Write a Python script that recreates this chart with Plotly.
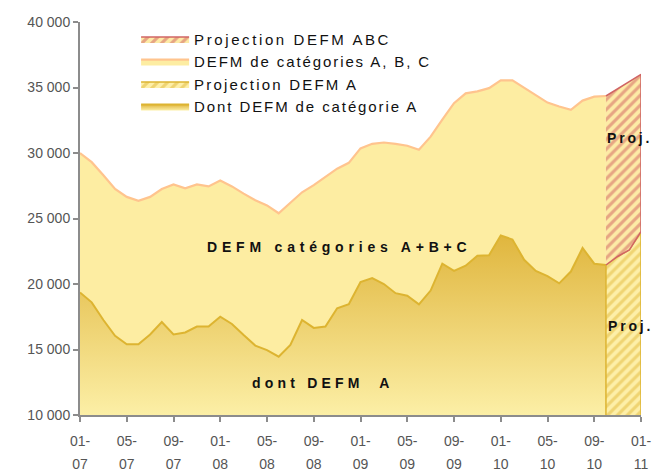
import plotly.graph_objects as go

# ---- data ----
months = [f"{m:02d}-{y:02d}" for y in range(7, 12) for m in range(1, 13)][:49]

abc_hist = [30000, 29300, 28300, 27250, 26650, 26350, 26650, 27250, 27600, 27300,
            27600, 27450, 27900, 27450, 26900, 26400, 26000, 25400, 26200, 27000,
            27550, 28200, 28800, 29250, 30350, 30700, 30800, 30700, 30550, 30250,
            31250, 32550, 33800, 34550, 34700, 34950, 35550, 35550, 35000, 34400,
            33850, 33550, 33300, 34000, 34300, 34350]
a_hist = [19350, 18600, 17250, 16050, 15400, 15400, 16150, 17100, 16150, 16300,
          16750, 16750, 17500, 16950, 16100, 15300, 14950, 14450, 15350, 17250,
          16650, 16750, 18150, 18450, 20150, 20450, 20000, 19300, 19100, 18450,
          19500, 21550, 21000, 21400, 22150, 22200, 23700, 23400, 21850, 21000,
          20600, 20050, 20950, 22750, 21550, 21450]
abc_proj = [34350, 34900, 35450, 36000]
a_proj = [21450, 22100, 22600, 24000]

y_min, y_max = 10000, 40000
y_ticks = [10000, 15000, 20000, 25000, 30000, 35000, 40000]
y_ticktext = ["10 000", "15 000", "20 000", "25 000", "30 000", "35 000", "40 000"]
x_tick_idx = list(range(0, 49, 4))

def small(t):
    return f'<span style="font-size:14px">{t}</span>'

x_ticktext = [small(months[i][:3]) + "<br>" + small(months[i][3:]) for i in x_tick_idx]

names = ["Projection DEFM ABC", "DEFM de catégories A, B, C",
         "Projection DEFM A", "Dont DEFM de catégorie A"]

def sp(t, ls=1.5):
    return f'<span style="letter-spacing:{ls}px">{t}</span>'

x_hist = months[:len(a_hist)]
x_proj = months[len(a_hist) - 1:]

fig = go.Figure()

# A historic (gradient)
fig.add_trace(go.Scatter(
    x=x_hist, y=a_hist, mode="lines", fill="tozeroy",
    line=dict(color="#DDB431", width=2),
    fillgradient=dict(type="vertical", start=y_min, stop=max(a_hist),
                      colorscale=[[0, "#FCEFA6"], [1, "#E0B63E"]]),
    name=sp(names[3], 1.9), legendrank=4, legendgroup="d", hoverinfo="skip"))

# ABC historic
fig.add_trace(go.Scatter(
    x=x_hist, y=abc_hist, mode="lines", fill="tonexty",
    line=dict(color="#FFC48E", width=2.2), fillcolor="#FDEDA2",
    name=sp(names[1], 1.9), legendrank=2, legendgroup="b", hoverinfo="skip"))

# Projection A (hatched gold)
fig.add_trace(go.Scatter(
    x=[x_proj[0]] + x_proj + [x_proj[-1]],
    y=[y_min] + a_proj + [y_min],
    mode="lines", fill="toself",
    line=dict(color="#DDB431", width=1.5),
    fillpattern=dict(shape="/", fgcolor="#E2BA3C", bgcolor="#FDEFA8",
                     size=7, solidity=0.45),
    name=sp(names[2], 2.2), legendrank=3, legendgroup="c", hoverinfo="skip"))

# Projection ABC (hatched red)
fig.add_trace(go.Scatter(
    x=x_proj + x_proj[::-1],
    y=abc_proj + a_proj[::-1],
    mode="lines", fill="toself",
    line=dict(color="#D06464", width=1.5),
    fillpattern=dict(shape="/", fgcolor="#CF6060", bgcolor="#FDEBA6",
                     size=7, solidity=0.45),
    name=sp(names[0], 2.6), legendrank=1, legendgroup="a", hoverinfo="skip"))

ann_font = dict(family="Liberation Sans, Arial, sans-serif", size=14, color="#111111")
annotations = [
    dict(text=sp("<b>DEFM catégories A+B+C</b>", 4.8), x=0.462, y=0.427),
    dict(text=sp("<b>dont DEFM  A</b>", 4.2), x=0.433, y=0.081),
    dict(text=sp("<b>Proj.</b>", 2.8), x=0.98, y=0.705),
    dict(text=sp("<b>Proj.</b>", 2.8), x=0.982, y=0.226),
]
for a in annotations:
    a.update(xref="paper", yref="paper", showarrow=False, font=ann_font,
             xanchor="center", yanchor="middle")

fig.update_layout(
    width=655, height=475,
    margin=dict(l=80, r=14, t=22, b=60, autoexpand=False),
    paper_bgcolor="white", plot_bgcolor="white",
    font=dict(family="Liberation Sans, Arial, sans-serif"),
    showlegend=True,
    legend=dict(x=0.1, y=0.998, xanchor="left", yanchor="top",
                bgcolor="rgba(0,0,0,0)", font=dict(size=15, color="#111111"),
                tracegroupgap=0, itemwidth=48),
    annotations=annotations,
    xaxis=dict(type="category", categoryorder="array", categoryarray=months,
               range=[0, len(months) - 1], tickmode="array",
               tickvals=[months[i] for i in x_tick_idx], ticktext=x_ticktext,
               showgrid=False, showline=True, linecolor="#8C8C8C", linewidth=2,
               ticks="outside", ticklen=5, tickcolor="#8C8C8C", tickwidth=1.5,
               tickfont=dict(family="Liberation Sans Narrow, Liberation Sans, sans-serif",
                             size=17, color="#555555"),
               ticklabelstandoff=4, zeroline=False, automargin=False),
    yaxis=dict(range=[y_min, y_max], tickmode="array", tickvals=y_ticks,
               ticktext=y_ticktext, showgrid=False, showline=True,
               linecolor="#8C8C8C", linewidth=2, ticks="outside", ticklen=5,
               tickcolor="#8C8C8C", tickwidth=1.5, zeroline=False, automargin=False,
               tickfont=dict(family="Liberation Sans Narrow, Liberation Sans, sans-serif",
                             size=14, color="#555555")),
)

fig.write_html("out.html", config={"displayModeBar": False},
               post_script="document.body.style.margin='0';document.body.style.overflow='hidden';")
